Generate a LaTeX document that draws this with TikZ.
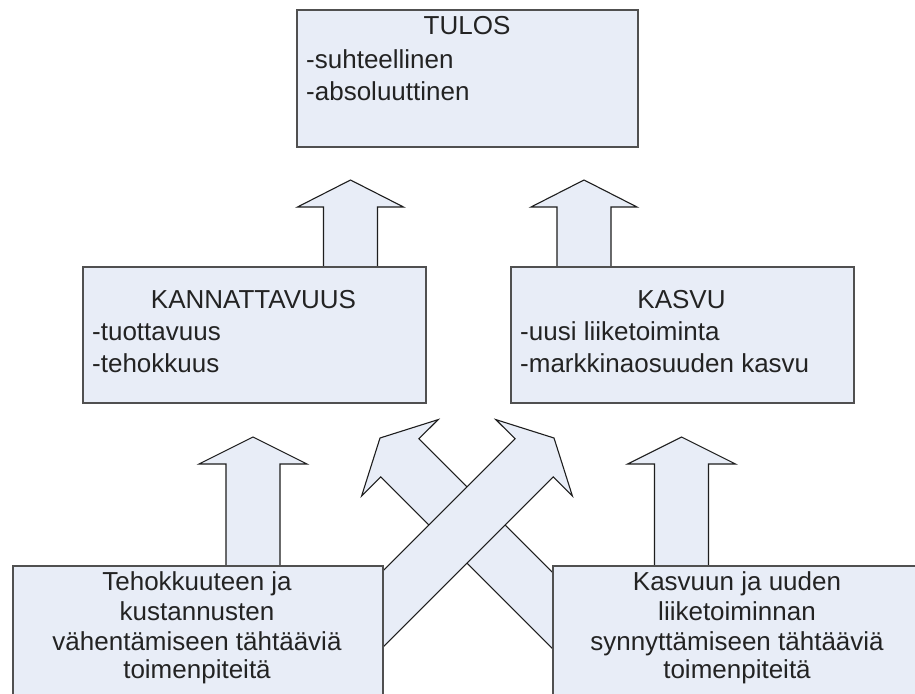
\documentclass[tikz,border=0pt]{standalone}
\usepackage{fontspec}
\setmainfont{Liberation Sans}
\definecolor{boxfill}{RGB}{232,237,247}
\definecolor{boxline}{RGB}{80,80,80}
\definecolor{arrline}{RGB}{30,30,30}
\definecolor{txt}{RGB}{35,35,35}
\begin{document}
\begin{tikzpicture}[x=1pt,y=-1pt,
  box/.style={draw=boxline,fill=boxfill,line width=1.8pt,rectangle,inner sep=0pt,anchor=north west},
  blockarrow/.style={draw=arrline,fill=boxfill,line width=1.1pt,line join=miter},
  label/.style={inner sep=0pt,text=txt,font=\fontsize{26}{30}\selectfont},
  ctr/.style={label,anchor=base},
  lft/.style={label,anchor=base west}]
\useasboundingbox (0,0) rectangle (915,693);
\fill[white] (0,0) rectangle (915,693);

% crossing diagonal arrows (the up-right one lies on top)
\draw[blockarrow] (380,438) -- (438.2,419.6) -- (418.9,438.7) -- (639.1,658.9)
  -- (600.9,697.1) -- (380.7,476.9) -- (361.6,496.0) -- cycle;
\draw[blockarrow] (554,438) -- (495.8,419.6) -- (515.1,438.7) -- (294.9,658.9)
  -- (333.1,697.1) -- (553.3,476.9) -- (572.4,496.0) -- cycle;

% vertical arrows towards TULOS
\draw[blockarrow] (350.5,180) -- (403.5,207) -- (377.5,207) -- (377.5,270)
  -- (323.5,270) -- (323.5,207) -- (297.5,207) -- cycle;
\draw[blockarrow] (584,180) -- (637,207) -- (611,207) -- (611,270)
  -- (557,270) -- (557,207) -- (531,207) -- cycle;

% vertical arrows from the action boxes
\draw[blockarrow] (253,437) -- (307,464) -- (280,464) -- (280,569)
  -- (226,569) -- (226,464) -- (199,464) -- cycle;
\draw[blockarrow] (681.5,437) -- (735.5,464) -- (708.5,464) -- (708.5,569)
  -- (654.5,569) -- (654.5,464) -- (627.5,464) -- cycle;

% boxes
\node[box,minimum width=341pt,minimum height=137pt] (tulos) at (296,9) {};
\node[box,minimum width=343pt,minimum height=136pt] (kann) at (82,266) {};
\node[box,minimum width=343pt,minimum height=136pt] (kasvu) at (510,266) {};
\node[box,minimum width=370pt,minimum height=150pt] (tehok) at (12,565) {};
\node[box,minimum width=370pt,minimum height=150pt] (kasvutoim) at (552,565) {};

% texts
\node[ctr] (t1) at (467,35) {TULOS};
\node[lft] (t2) at (306,68) {-suhteellinen};
\node[lft] (t3) at (306,100) {-absoluuttinen};

\node[ctr] (k1) at (253.5,308) {KANNATTAVUUS};
\node[lft] (k2) at (92,340) {-tuottavuus};
\node[lft] (k3) at (92,372) {-tehokkuus};

\node[ctr] (v1) at (681.5,308) {KASVU};
\node[lft] (v2) at (520,340) {-uusi liiketoiminta};
\node[lft] (v3) at (520,372) {-markkinaosuuden kasvu};

\node[ctr] (a1) at (197,590) {Tehokkuuteen ja};
\node[ctr] (a2) at (197,620) {kustannusten};
\node[ctr] (a3) at (197,650) {vähentämiseen tähtääviä};
\node[ctr] (a4) at (197,678) {toimenpiteitä};

\node[ctr] (b1) at (737,590) {Kasvuun ja uuden};
\node[ctr] (b2) at (737,620) {liiketoiminnan};
\node[ctr] (b3) at (737,650) {synnyttämiseen tähtääviä};
\node[ctr] (b4) at (737,678) {toimenpiteitä};
\end{tikzpicture}
\end{document}
